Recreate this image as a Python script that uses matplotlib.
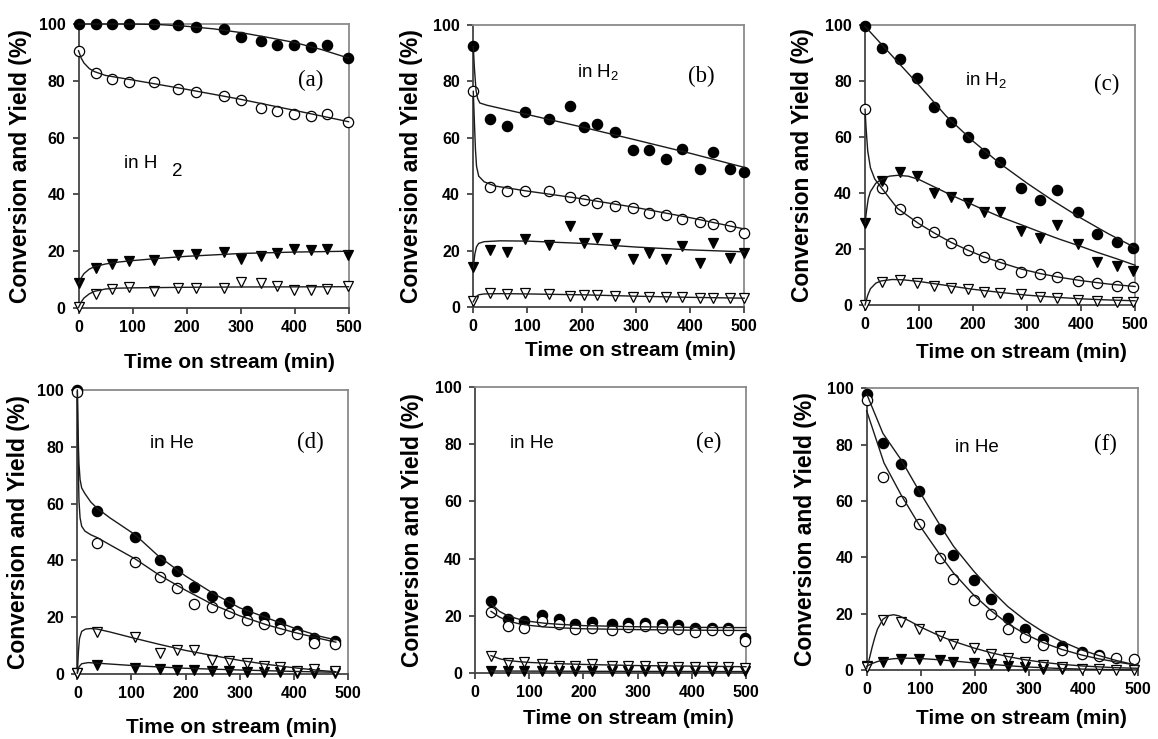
import matplotlib
matplotlib.use('Agg')
import matplotlib.pyplot as plt

# ---------------- panel (a): in H2 ----------------
a_t = [0, 32, 62, 94, 139, 185, 218, 270, 300, 337, 368, 399, 430, 460, 499]
a_conv = [100, 100, 100, 100, 100, 99.6, 99.0, 98.2, 95.5, 93.9, 92.7, 92.7, 91.9, 92.7, 87.9]
a_ocirc = [90.6, 82.8, 80.5, 79.5, 79.5, 77.2, 76.2, 74.8, 73.4, 70.6, 69.4, 68.2, 67.6, 68.2, 65.4]
a_ftri = [8.7, 14.0, 15.5, 16.6, 17.0, 18.5, 19.0, 19.7, 17.2, 18.4, 19.3, 20.8, 20.5, 20.8, 18.7]
a_otri = [0.2, 4.9, 6.7, 7.3, 6.0, 7.0, 7.2, 7.2, 9.3, 8.7, 7.8, 6.4, 6.4, 6.6, 7.9]

a_fit_conv_x = [0, 100, 150, 200, 250, 300, 350, 400, 450, 500]
a_fit_conv_y = [100, 100, 99.8, 99.2, 98.3, 97, 95.3, 93.5, 91, 88]
a_fit_ocirc_x = [0, 5, 10, 20, 30, 50, 100, 200, 300, 400, 500]
a_fit_ocirc_y = [90.6, 88, 86.3, 84.3, 83.2, 81.9, 80.3, 77, 73.5, 69.6, 65.6]
a_fit_ftri_x = [0, 5, 10, 20, 30, 50, 75, 100, 150, 200, 300, 400, 500]
a_fit_ftri_y = [8.7, 10.6, 12.1, 13.7, 14.6, 15.5, 16.2, 16.7, 17.5, 18.2, 19.2, 19.7, 20.0]
a_fit_otri_x = [0, 5, 10, 20, 30, 50, 75, 100, 200, 300, 500]
a_fit_otri_y = [0.2, 2.1, 3.5, 5.0, 5.9, 6.7, 7.0, 7.1, 7.3, 7.4, 7.5]

# ---------------- panel (b): in H2 ----------------
b_t = [0, 31, 62, 95, 139, 178, 204, 229, 261, 295, 324, 355, 385, 418, 443, 473, 500]
b_conv = [92.4, 66.7, 64.4, 69.1, 66.8, 71.2, 63.8, 65.1, 62.0, 55.6, 55.6, 52.4, 56.2, 49.1, 54.9, 49.1, 48.0]
b_ocirc = [76.5, 42.6, 41.3, 41.1, 41.2, 39.0, 38.0, 37.1, 36.1, 35.1, 33.6, 32.8, 31.4, 30.2, 29.5, 28.7, 26.2]
b_ftri = [14.5, 20.5, 19.8, 24.2, 22.2, 29.0, 22.7, 24.5, 22.3, 17.2, 19.4, 17.0, 21.8, 15.8, 22.8, 17.6, 19.2]
b_otri = [2.3, 5.2, 4.8, 5.2, 4.8, 4.2, 4.3, 4.5, 4.0, 3.7, 3.7, 3.6, 3.6, 3.4, 3.4, 3.2, 3.5]

b_fit_conv_x = [0, 2, 5, 8, 12, 25, 50, 100, 200, 300, 400, 500]
b_fit_conv_y = [92.4, 85, 77, 74, 72.4, 71.6, 70.5, 68.3, 63.9, 59.3, 54.6, 49.6]
b_fit_ocirc_x = [0, 2, 4, 6, 10, 20, 40, 100, 200, 300, 400, 500]
b_fit_ocirc_y = [76.5, 66, 56, 50, 46.5, 44.5, 43, 41.2, 38.5, 35.4, 31.8, 27.8]
b_fit_ftri_x = [0, 3, 6, 10, 20, 50, 100, 200, 300, 400, 500]
b_fit_ftri_y = [14.2, 19, 21.5, 22.7, 23.3, 23.6, 23.5, 22.7, 21.4, 20.4, 19.7]
b_fit_otri_x = [0, 5, 10, 20, 50, 100, 200, 300, 400, 500]
b_fit_otri_y = [2.0, 3.8, 4.5, 4.8, 4.9, 4.8, 4.5, 4.0, 3.6, 3.3]

# ---------------- panel (c): in H2 ----------------
c_t = [0, 32, 64, 96, 127, 159, 190, 220, 250, 289, 324, 355, 394, 429, 466, 497]
c_conv = [99.6, 91.7, 87.7, 81.0, 70.8, 65.5, 60.1, 54.2, 51.2, 41.7, 37.5, 41.1, 33.1, 25.5, 22.5, 20.5]
c_ocirc = [69.9, 41.7, 34.2, 29.8, 26.2, 22.3, 19.6, 17.0, 14.6, 11.9, 11.0, 9.9, 8.6, 7.7, 6.9, 6.5]
c_ftri = [29.2, 44.4, 47.6, 46.2, 39.9, 38.7, 36.3, 33.3, 33.1, 26.4, 23.8, 28.6, 21.8, 15.2, 13.9, 12.3]
c_otri = [0.0, 8.2, 9.0, 8.0, 6.8, 6.2, 5.6, 4.8, 4.2, 3.9, 3.0, 2.4, 1.9, 1.4, 1.1, 1.0]

c_fit_conv_x = [0, 50, 100, 150, 200, 250, 300, 350, 400, 450, 500]
c_fit_conv_y = [99.5, 89, 78.5, 67.5, 58.5, 50.5, 43.5, 37, 31, 25.5, 20.5]
c_fit_ocirc_x = [0, 2, 5, 10, 18, 31, 60, 100, 130, 160, 190, 220, 250, 290, 325, 360, 400, 450, 500]
c_fit_ocirc_y = [69.9, 63, 55, 49, 45, 41.7, 34.5, 29, 25.5, 22.3, 19.6, 17.2, 15.2, 12.8, 11.2, 9.9, 8.7, 7.5, 6.6]
c_fit_ftri_x = [0, 3, 6, 10, 20, 30, 45, 60, 80, 100, 130, 160, 190, 220, 250, 290, 325, 360, 400, 430, 466, 500]
c_fit_ftri_y = [29.2, 34, 38, 40.5, 43.5, 44.8, 46, 46.3, 46, 44.8, 42, 39.2, 36.6, 34, 31.5, 28.6, 26.0, 23.5, 20.9, 18.8, 16.5, 14.2]
c_fit_otri_x = [0, 5, 10, 20, 30, 50, 70, 100, 150, 200, 250, 300, 350, 400, 450, 500]
c_fit_otri_y = [0, 3.5, 5.8, 7.8, 8.6, 9.1, 9.0, 8.4, 7.0, 5.6, 4.5, 3.5, 2.8, 2.2, 1.8, 1.5]

# ---------------- panel (d): in He ----------------
d_t = [0, 37, 107, 152, 184, 216, 249, 280, 314, 345, 374, 406, 437, 476]
d_conv = [100, 57.4, 48.4, 40.1, 36.4, 30.7, 27.6, 25.2, 22.3, 20.0, 17.8, 15.1, 12.6, 11.6]
d_ocirc = [99.4, 46.2, 39.3, 34.0, 30.2, 24.6, 23.5, 21.6, 19.0, 17.5, 15.7, 14.0, 10.8, 10.6]
d_ftri = [0.3, 3.3, 2.1, 1.6, 1.5, 1.3, 1.1, 1.0, 0.8, 0.7, 0.6, 0.5, 0.4, 0.4]
d_otri = [0.5, 14.8, 13.0, 7.4, 8.5, 8.3, 4.9, 4.5, 3.9, 2.7, 2.4, 1.0, 1.6, 1.1]

d_fit_conv_x = [0, 1, 2, 3, 5, 8, 14, 25, 37, 60, 107, 150, 200, 250, 300, 350, 400, 450, 478]
d_fit_conv_y = [100, 88, 80, 74, 68.5, 65.5, 63.5, 60.5, 58.3, 55, 49, 41.5, 34.5, 28.5, 23.3, 19.8, 16.2, 13.2, 12]
d_fit_ocirc_x = [0, 1, 2, 3, 5, 8, 14, 25, 37, 60, 107, 150, 200, 250, 300, 350, 400, 450, 478]
d_fit_ocirc_y = [99.4, 84, 70, 61, 55, 52, 50.3, 49, 48, 45.5, 40.5, 35, 29.5, 24.5, 20.5, 17.3, 14.7, 12.4, 11.2]
d_fit_ftri_x = [0, 3, 8, 20, 37, 107, 200, 300, 400, 478]
d_fit_ftri_y = [0.3, 2.5, 3.6, 4.0, 3.8, 2.9, 2.0, 1.4, 0.9, 0.6]
d_fit_otri_x = [0, 2, 4, 8, 15, 25, 37, 60, 107, 150, 200, 250, 300, 350, 400, 450, 478]
d_fit_otri_y = [0.5, 8, 12.5, 15, 15.8, 16, 15.8, 14.8, 12.5, 10.5, 8.3, 6.5, 4.8, 3.4, 2.2, 1.2, 0.8]

# ---------------- panel (e): in He ----------------
e_t = [29.5, 60, 91, 123, 155, 184.5, 215, 252, 283, 314, 344.5, 375, 406, 437, 467, 498]
e_conv = [25.1, 18.7, 18.1, 20.2, 18.7, 17.1, 17.9, 17.0, 17.5, 17.5, 17.0, 16.7, 15.6, 15.6, 15.6, 12.0]
e_ocirc = [21.4, 16.4, 15.6, 18.2, 17.1, 15.3, 15.8, 15.0, 16.1, 16.4, 15.8, 15.3, 14.4, 15.0, 15.0, 11.2]
e_ftri = [0.6, 0.5, 0.5, 0.5, 0.5, 0.5, 0.5, 0.5, 0.5, 0.5, 0.5, 0.5, 0.5, 0.5, 0.5, 0.5]
e_otri = [6.0, 3.3, 3.8, 3.2, 2.5, 2.4, 3.2, 2.4, 2.2, 2.2, 2.1, 2.0, 2.0, 2.0, 2.0, 1.7]

e_fit_conv_x = [29.5, 45, 60, 80, 100, 130, 160, 200, 300, 400, 500]
e_fit_conv_y = [24.3, 21.5, 20, 18.8, 18, 17.3, 16.9, 16.5, 16.1, 15.9, 15.8]
e_fit_ocirc_x = [29.5, 45, 60, 80, 100, 130, 160, 200, 300, 400, 500]
e_fit_ocirc_y = [21.5, 19.5, 18.2, 17.2, 16.6, 16.0, 15.7, 15.4, 15.1, 14.9, 14.8]
e_fit_ftri_x = [29.5, 200, 500]
e_fit_ftri_y = [0.6, 0.5, 0.4]
e_fit_otri_x = [29.5, 45, 60, 80, 100, 150, 200, 300, 400, 500]
e_fit_otri_y = [6.0, 4.9, 4.3, 3.9, 3.6, 3.2, 2.9, 2.5, 2.3, 2.1]

# ---------------- panel (f): in He ----------------
f_t = [0, 31, 64, 97, 136, 159, 198, 229, 261, 293, 325, 361, 398, 429, 461, 493]
f_conv = [98.0, 80.5, 73.0, 63.7, 50.0, 40.7, 32.0, 25.1, 18.3, 14.4, 11.0, 8.5, 6.5, 5.2]
f_ocirc = [95.9, 68.4, 60.0, 51.8, 39.6, 32.2, 25.0, 19.7, 14.6, 11.7, 9.0, 7.2, 5.5, 4.8, 4.4, 3.8]
f_ftri = [1.4, 3.0, 4.0, 4.0, 3.5, 3.0, 2.4, 2.1, 1.5, 0.9, 0.4, 0.2]
f_otri = [1.0, 17.7, 17.1, 14.4, 12.1, 9.2, 7.9, 5.7, 4.1, 3.0, 1.8, 1.0, 0.3, 0.3, 0.1, 0.1]

f_fit_conv_x = [0, 30, 64, 97, 135, 160, 198, 230, 260, 293, 326, 360, 397, 427, 462, 500]
f_fit_conv_y = [98, 84, 74.5, 63.5, 51.5, 44, 35, 28.3, 22.6, 17.6, 13.5, 10.1, 7.1, 5.2, 3.3, 1.6]
f_fit_ocirc_x = [0, 32, 64, 97, 135, 160, 198, 230, 260, 293, 326, 360, 397, 427, 462, 500]
f_fit_ocirc_y = [92, 73.5, 62, 51.5, 41, 34.5, 26.5, 21, 16.5, 12.7, 9.7, 7.3, 5.3, 4.0, 2.8, 1.7]
f_fit_ftri_x = [0, 10, 20, 30, 50, 70, 97, 136, 160, 198, 230, 262, 293, 326, 360, 400, 460, 500]
f_fit_ftri_y = [1.3, 2.3, 3.0, 3.5, 4.0, 4.2, 4.1, 3.6, 3.2, 2.5, 2.0, 1.5, 1.1, 0.8, 0.5, 0.3, 0.1, 0.0]
f_fit_otri_x = [0, 5, 10, 15, 20, 30, 40, 50, 60, 80, 100, 136, 160, 198, 230, 262, 293, 326, 360, 400, 430, 460, 500]
f_fit_otri_y = [0.5, 4, 8, 11.5, 14.5, 18.0, 19.3, 19.6, 19.2, 17.3, 15.2, 12.0, 10.2, 7.8, 6.1, 4.7, 3.6, 2.7, 2.0, 1.4, 1.1, 0.8, 0.6]


def set_custom_style():
    """Fonts close to the Arial / Times look of the original figure"""
    plt.rcParams['font.family'] = ['Liberation Sans', 'DejaVu Sans']
    plt.rcParams['mathtext.fontset'] = 'custom'
    plt.rcParams['mathtext.rm'] = 'Liberation Sans'
    plt.rcParams['axes.linewidth'] = 1.3


def style_axes(ax, ylab_x, xlab_xy):
    """Axis limits, ticks, spines and labels shared by all six panels"""
    ax.set_xlim(0, 500)
    ax.set_ylim(0, 100)
    ax.set_xticks(range(0, 501, 100))
    ax.set_yticks(range(0, 101, 20))
    ax.tick_params(direction='out', length=4, width=1.1, labelsize=11.5,
                   top=False, right=False, colors='#222222')
    ax.tick_params(axis='y', pad=5.5)
    ax.tick_params(axis='x', pad=4.5)
    for lbl in ax.get_xticklabels() + ax.get_yticklabels():
        lbl.set_fontweight('bold')
        lbl.set_color('black')

    ax.spines['left'].set_color('#444444')
    ax.spines['bottom'].set_color('#444444')
    ax.spines['top'].set_color('#8a8a8a')
    ax.spines['right'].set_color('#8a8a8a')

    ax.set_xlabel('Time on stream (min)', fontsize=15, fontweight='bold')
    ax.set_ylabel('Conversion and Yield (%)', fontsize=16.5, fontweight='bold')
    ax.xaxis.set_label_coords(*xlab_xy)
    ax.yaxis.set_label_coords(ylab_x, 0.5)


def draw_panel(ax, t, conv, ocirc, ftri, otri, fits):
    """Scatter the four data series and overlay the fitted curves"""
    mk = dict(linestyle='none', ms=7.4, mec='black', mew=0.9, clip_on=False)
    ax.plot(t[:len(conv)], conv, marker='o', mfc='black', zorder=3, **mk)
    ax.plot(t[:len(ocirc)], ocirc, marker='o', mfc='white', zorder=3.1, **mk)
    ax.plot(t[:len(ftri)], ftri, marker='v', mfc='black', zorder=3.2, **mk)
    ax.plot(t[:len(otri)], otri, marker='v', mfc='white', zorder=3.3, **mk)

    # fitted lines drawn on top of the symbols
    for fx, fy in fits:
        ax.plot(fx, fy, color='#1a1a1a', lw=1.0, zorder=4, clip_on=False)


def main():
    set_custom_style()
    fig = plt.figure(figsize=(11.58, 7.39), dpi=100)
    fig.patch.set_facecolor('white')

    # axes rectangles
    rects = {
        'a': [0.0678, 0.5832, 0.2332, 0.3843],
        'b': [0.4087, 0.5839, 0.2340, 0.3823],
        'c': [0.7470, 0.5873, 0.2332, 0.3789],
        'd': [0.0668, 0.0880, 0.2335, 0.3843],
        'e': [0.4102, 0.0897, 0.2340, 0.3862],
        'f': [0.7484, 0.0934, 0.2340, 0.3812],
    }
    ylab_x = {'a': -0.174, 'b': -0.185, 'c': -0.19, 'd': -0.174, 'e': -0.19, 'f': -0.185}
    xlab_xy = {'a': (0.56, -0.158), 'b': (0.58, -0.119), 'c': (0.58, -0.135),
               'd': (0.57, -0.154), 'e': (0.565, -0.128), 'f': (0.57, -0.138)}

    panels = {
        'a': (a_t, a_conv, a_ocirc, a_ftri, a_otri,
              [(a_fit_conv_x, a_fit_conv_y), (a_fit_ocirc_x, a_fit_ocirc_y),
               (a_fit_ftri_x, a_fit_ftri_y), (a_fit_otri_x, a_fit_otri_y)]),
        'b': (b_t, b_conv, b_ocirc, b_ftri, b_otri,
              [(b_fit_conv_x, b_fit_conv_y), (b_fit_ocirc_x, b_fit_ocirc_y),
               (b_fit_ftri_x, b_fit_ftri_y), (b_fit_otri_x, b_fit_otri_y)]),
        'c': (c_t, c_conv, c_ocirc, c_ftri, c_otri,
              [(c_fit_conv_x, c_fit_conv_y), (c_fit_ocirc_x, c_fit_ocirc_y),
               (c_fit_ftri_x, c_fit_ftri_y), (c_fit_otri_x, c_fit_otri_y)]),
        'd': (d_t, d_conv, d_ocirc, d_ftri, d_otri,
              [(d_fit_conv_x, d_fit_conv_y), (d_fit_ocirc_x, d_fit_ocirc_y),
               (d_fit_ftri_x, d_fit_ftri_y), (d_fit_otri_x, d_fit_otri_y)]),
        'e': (e_t, e_conv, e_ocirc, e_ftri, e_otri,
              [(e_fit_conv_x, e_fit_conv_y), (e_fit_ocirc_x, e_fit_ocirc_y),
               (e_fit_ftri_x, e_fit_ftri_y), (e_fit_otri_x, e_fit_otri_y)]),
        'f': (f_t, f_conv, f_ocirc, f_ftri, f_otri,
              [(f_fit_conv_x, f_fit_conv_y), (f_fit_ocirc_x, f_fit_ocirc_y),
               (f_fit_ftri_x, f_fit_ftri_y), (f_fit_otri_x, f_fit_otri_y)]),
    }

    # panel tag positions and atmosphere label positions (data coords)
    tag_pos = {'a': (429, 80.1), 'b': (420, 81.9), 'c': (447, 78.6),
               'd': (431, 81.5), 'e': (432, 80.7), 'f': (440, 79.9)}
    gas_pos = {'b': (192, 81.3), 'c': (185, 78.2),
               'd': (134, 79.5), 'e': (65, 78.7), 'f': (163, 77.5)}

    for key in 'abcdef':
        ax = fig.add_axes(rects[key])
        ax.set_facecolor('white')
        draw_panel(ax, *panels[key])
        style_axes(ax, ylab_x[key], xlab_xy[key])

        ax.text(*tag_pos[key], '(%s)' % key, family='Liberation Serif',
                fontsize=16.5, ha='center', va='center')

        if key == 'a':
            # the original has a detached, full-size "2"
            ax.text(84, 49.4, 'in H', fontsize=13.5, ha='left', va='baseline')
            ax.text(172.6, 46.6, '2', fontsize=13.5, ha='left', va='baseline')
        elif key in 'bc':
            ax.text(*gas_pos[key], r'in H$_\mathregular{2}$', fontsize=13.5,
                    ha='left', va='baseline')
        else:
            ax.text(*gas_pos[key], 'in He', fontsize=13.5, ha='left', va='baseline')

    fig.savefig('out.png', dpi=100, facecolor='white')
    plt.close(fig)


if __name__ == "__main__":
    main()
